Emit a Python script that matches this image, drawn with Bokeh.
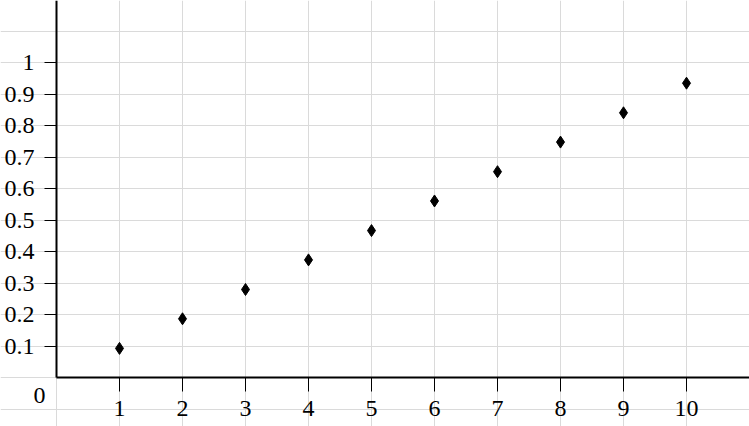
from bokeh.plotting import figure
from bokeh.models import FixedTicker, CustomJSTickFormatter, Label, Range1d
from bokeh.embed import file_html
from bokeh.resources import INLINE

# ---- data ----
x_values = [1, 2, 3, 4, 5, 6, 7, 8, 9, 10]
y_values = [0.093, 0.187, 0.280, 0.374, 0.467, 0.561, 0.654, 0.748, 0.841, 0.935]

x_ticks = [1, 2, 3, 4, 5, 6, 7, 8, 9, 10]
x_tick_labels = ["1", "2", "3", "4", "5", "6", "7", "8", "9", "10"]
y_ticks = [0.1, 0.2, 0.3, 0.4, 0.5, 0.6, 0.7, 0.8, 0.9, 1.0]
y_tick_labels = ["0.1", "0.2", "0.3", "0.4", "0.5", "0.6", "0.7", "0.8", "0.9", "1"]
x_grid_ticks = [0, 1, 2, 3, 4, 5, 6, 7, 8, 9, 10, 11]
y_grid_ticks = [-0.1, 0.0, 0.1, 0.2, 0.3, 0.4, 0.5, 0.6, 0.7, 0.8, 0.9, 1.0, 1.1, 1.2]
origin_text = "0"

FONT = "Liberation Serif"
FS = "24px"

p = figure(width=749, height=426, output_backend="svg", toolbar_location=None,
           x_range=Range1d(-0.889, 11.0), y_range=Range1d(-0.155, 1.1975),
           min_border=0, outline_line_color=None,
           background_fill_color="white", border_fill_color="white")

p.scatter(x_values, y_values, marker="diamond", size=12,
          fill_color="black", line_color="black")

fmt_code = """
for (let i = 0; i < vals.length; i++) {
  if (Math.abs(vals[i] - tick) < 1e-9) { return labels[i]; }
}
return "";
"""

for ax, ticks, labels in ((p.xaxis[0], x_ticks, x_tick_labels),
                          (p.yaxis[0], y_ticks, y_tick_labels)):
    ax.fixed_location = 0
    ax.ticker = FixedTicker(ticks=ticks)
    ax.formatter = CustomJSTickFormatter(args=dict(vals=ticks, labels=labels), code=fmt_code)
    ax.axis_line_color = "black"
    ax.axis_line_width = 2
    ax.major_tick_line_color = "black"
    ax.major_tick_line_width = 1
    ax.major_tick_in = 0
    ax.minor_tick_line_color = None
    ax.major_label_text_font = FONT
    ax.major_label_text_font_size = FS
    ax.major_label_text_color = "black"

p.xaxis[0].bounds = (0, 100)
p.yaxis[0].bounds = (0, 100)
p.xaxis[0].major_tick_out = 14
p.xaxis[0].major_label_standoff = 9
p.yaxis[0].major_tick_out = 12
p.yaxis[0].major_label_standoff = 10

p.xgrid[0].ticker = FixedTicker(ticks=x_grid_ticks)
p.ygrid[0].ticker = FixedTicker(ticks=y_grid_ticks)
for g in (p.xgrid[0], p.ygrid[0]):
    g.grid_line_color = "#dadada"
    g.grid_line_width = 1

p.add_layout(Label(x=-0.27, y=-0.058, text=origin_text, text_font=FONT,
                   text_font_size=FS, text_align="center", text_baseline="middle",
                   text_color="black"))

open("out.html", "w").write(file_html(p, INLINE))
